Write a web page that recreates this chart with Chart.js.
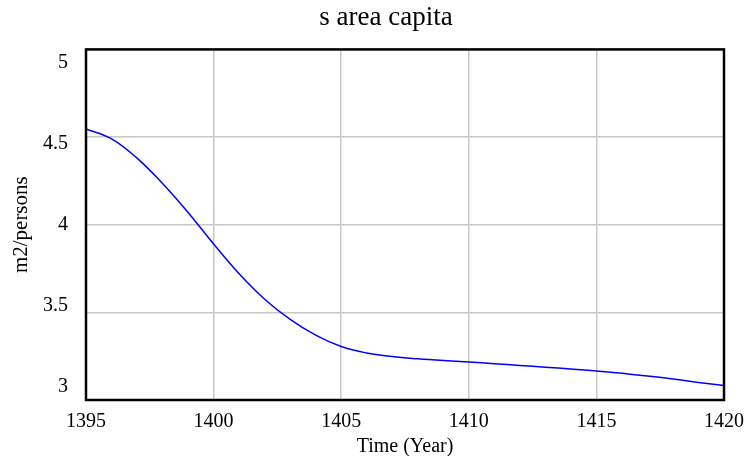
<!DOCTYPE html>
<html>
<head>
  <meta charset="UTF-8">
  <title>s area capita</title>
  <script src="https://cdn.jsdelivr.net/npm/chart.js"></script>
  <style>
    html, body { margin: 0; padding: 0; background: #fff; }
    #wrap { width: 747px; height: 456px; }
  </style>
</head>
<body>
  <div id="wrap"><canvas id="chart"></canvas></div>

  <script>
    // values (one per year)
    const years = [1395, 1396, 1397, 1398, 1399, 1400, 1401, 1402, 1403, 1404, 1405,
                   1406, 1407, 1408, 1409, 1410, 1411, 1412, 1413, 1414, 1415,
                   1416, 1417, 1418, 1419, 1420];
    const areaPerCapita = [4.546, 4.49, 4.38, 4.235, 4.07, 3.89, 3.72, 3.575, 3.46, 3.37, 3.305,
                           3.268, 3.248, 3.235, 3.225, 3.217, 3.207, 3.197, 3.187, 3.177, 3.166,
                           3.152, 3.137, 3.12, 3.10, 3.082];
    const xTicks = [1395, 1400, 1405, 1410, 1415, 1420];
    const yTicks = [3, 3.5, 4, 4.5, 5];

    const serif = "'Liberation Serif', 'Times New Roman', serif";

    // black frame round the plot area, title centred a bit right like the original
    const frame = {
      id: 'frame',
      afterLayout(chart) {
        chart.titleBlock.left = 48;
        chart.titleBlock.right = 724;
      },
      afterDraw(chart) {
        const a = chart.chartArea, c = chart.ctx;
        c.save();
        c.strokeStyle = '#000';
        c.lineWidth = 2.5;
        c.strokeRect(a.left, a.top, a.right - a.left, a.bottom - a.top);
        c.restore();
      }
    };

    const ctx = document.getElementById('chart').getContext('2d');
    new Chart(ctx, {
      type: 'line',
      data: {
        datasets: [{
          label: 's area capita',
          data: years.map((x, i) => ({ x: x, y: areaPerCapita[i] })),
          borderColor: '#0000ff',
          borderWidth: 1.5,
          pointRadius: 0,
          tension: 0.4,
          fill: false
        }]
      },
      options: {
        responsive: true,
        maintainAspectRatio: false,
        animation: false,
        layout: { padding: { left: 0, right: 23, top: 0, bottom: 0 } },
        plugins: {
          legend: { display: false },
          tooltip: { enabled: false },
          title: {
            display: true,
            text: 's area capita',
            color: '#000',
            font: { family: serif, size: 27, weight: 'normal' },
            padding: { top: 2, bottom: 15 }
          }
        },
        scales: {
          x: {
            type: 'linear',
            min: 1395, max: 1420,
            afterBuildTicks: s => { s.ticks = xTicks.map(v => ({ value: v })); },
            afterFit: s => { s.height = 56; s.paddingLeft = 0; s.paddingRight = 0; },
            grid: { color: '#c8c8c8', lineWidth: 1.5, drawTicks: false },
            border: { display: false },
            ticks: {
              color: '#000', font: { family: serif, size: 20 }, padding: 10, maxRotation: 0,
              callback: v => String(v)
            },
            title: {
              display: true, text: 'Time (Year)', color: '#000',
              font: { family: serif, size: 20 }, padding: { top: 0, bottom: -3 }
            }
          },
          y: {
            position: 'left',
            min: 3, max: 5,
            afterBuildTicks: s => { s.ticks = yTicks.map(v => ({ value: v })); },
            afterFit: s => { s.width = 0; },
            grid: { color: '#c8c8c8', lineWidth: 1.5, drawTicks: false },
            border: { display: false },
            ticks: { display: false }
          },
          // label axis: the picture places its y labels slightly inward from the grid lines
          yl: {
            position: 'left',
            min: 2.918, max: 5.085,
            afterBuildTicks: s => { s.ticks = yTicks.map(v => ({ value: v })); },
            afterFit: s => { s.width = 86; },
            grid: { display: false, drawTicks: false },
            border: { display: false },
            ticks: {
              color: '#000', font: { family: serif, size: 20 }, padding: 18,
              callback: v => String(v)
            },
            title: {
              display: true, text: 'm2/persons', color: '#000',
              font: { family: serif, size: 21 }, padding: { top: 9, bottom: 0 }
            }
          }
        }
      },
      plugins: [frame]
    });
  </script>
</body>
</html>
